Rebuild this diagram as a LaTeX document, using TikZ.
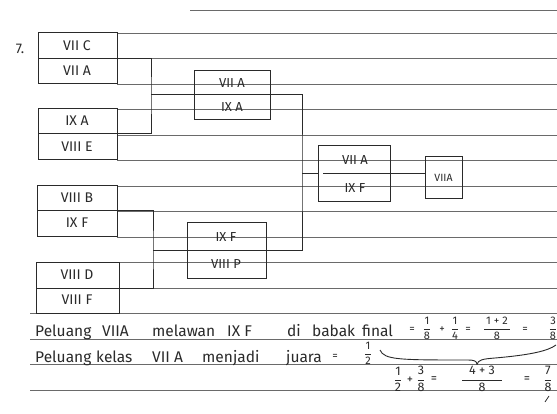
\documentclass[tikz,border=0pt]{standalone}
\usepackage{fontspec}
\usepackage{amsmath}
\setmainfont{Fira Sans}
\definecolor{ink}{HTML}{2A2A2A}
\definecolor{ruling}{HTML}{6A6A6A}
\newcommand\myfr[2]{\ensuremath{\dfrac{\text{#1}}{\text{#2}}}}
\begin{document}
\begin{tikzpicture}[x=1pt,y=-1pt,
  paper/.style={draw=ruling,line width=0.7pt},
  box/.style={draw=ink,line width=1pt,rectangle,inner sep=0pt,outer sep=0pt},
  wire/.style={draw=ink,line width=1pt},
  lab/.style={text=ink,font=\fontsize{14}{14}\selectfont,inner sep=0pt},
  labB/.style={text=ink,font=\fontsize{13}{13}\selectfont,inner sep=0pt},
  labF/.style={text=ink,font=\fontsize{10.5}{10.5}\selectfont,inner sep=0pt},
  txt/.style={text=ink,font=\fontsize{15.5}{15.5}\selectfont,inner sep=0pt,anchor=base west},
  fr/.style={text=ink,font=\fontsize{11}{11}\selectfont,inner sep=0pt},
  frB/.style={text=ink,font=\fontsize{12.5}{12.5}\selectfont,inner sep=0pt}]
\fill[white] (0,0) rectangle (557,414);
\useasboundingbox (0,0) rectangle (557,414);
% ruled paper
\draw[paper] (190,10) -- (557,10);
\foreach \k in {0,...,11} \draw[paper] (117,{33+25.5*\k}) -- (557,{33+25.5*\k});
\foreach \k in {11,...,14} \draw[paper] (30,{33+25.5*\k}) -- (557,{33+25.5*\k});
% number
\node[lab] (num) at (20,49) {7.};
% first round boxes
\node[box,minimum width=79pt,minimum height=51pt] (b1) at (77.5,58.5) {};
\node[box,minimum width=79pt,minimum height=51pt] (b2) at (77.5,134) {};
\node[box,minimum width=80pt,minimum height=51pt] (b3) at (77,211) {};
\node[box,minimum width=83pt,minimum height=51pt] (b4) at (77.5,288) {};
\foreach \b in {b1,b2,b3,b4} \draw[wire] (\b.west) -- (\b.east);
\node[lab] (t1) at (77,46) {VII C};
\node[lab] (t2) at (77,71) {VII A};
\node[lab] (t3) at (77,121) {IX A};
\node[lab] (t4) at (77,147) {VIII E};
\node[lab] (t5) at (77,198) {VIII B};
\node[lab] (t6) at (77,223) {IX F};
\node[lab] (t7) at (77,275) {VIII D};
\node[lab] (t8) at (77,300) {VIII F};
% second round boxes
\node[box,minimum width=76pt,minimum height=49pt] (bA) at (232,95) {};
\node[box,minimum width=79pt,minimum height=55pt] (bB) at (226.5,250.5) {};
\draw[wire] (bA.west) -- (bA.east);
\draw[wire] (bB.west) -- (bB.east);
\node[labB] (tA1) at (232,83) {VII A};
\node[labB] (tA2) at (232,107) {IX A};
\node[labB] (tB1) at (226,237) {IX F};
\node[labB] (tB2) at (226,264) {VIII P};
% final boxes
\node[box,minimum width=72pt,minimum height=56pt] (bC) at (354,174) {};
\draw[wire] ([xshift=5pt]bC.west) -- (bC.east);
\node[labB] (tC1) at (355,160) {VII A};
\node[labB] (tC2) at (355,188) {IX F};
\node[box,minimum width=37pt,minimum height=42pt] (bF) at (443.5,178) {};
\node[labF] (tF) at (443.5,178) {VIIA};
% connectors
\coordinate (j1) at (151,95);
\draw[wire] (b1.east) -| (j1) |- (b2.east);
\draw[wire] (j1) -- (bA.west);
\coordinate (j2) at (153,250.5);
\draw[wire] (b3.east) -| (j2) |- (b4.east);
\draw[wire] (j2) -- (bB.west);
\coordinate (j3) at (302,174);
\draw[wire] (bA.east) -| (j3) |- (bB.east);
\draw[wire] (j3) -- (bC.west);
\draw[wire] (bC.east) -- (bC.east -| bF.west);
% text line 1
\node[txt] (l1a) at (35,336) {Peluang};
\node[txt] (l1b) at (102,336) {VIIA};
\node[txt] (l1c) at (152,336) {melawan};
\node[txt] (l1d) at (227,336) {IX F};
\node[txt] (l1e) at (287,336) {di};
\node[txt] (l1f) at (312,336) {babak};
\node[txt] (l1g) at (362,336) {final};
\node[fr] (e1) at (412,330) {=};
\node[fr] (f1) at (427,328.5) {\myfr{1}{8}};
\node[fr] (p1) at (442,330) {+};
\node[fr] (f2) at (455,328.5) {\myfr{1}{4}};
\node[fr] (e2) at (468,330) {=};
\node[fr] (f3) at (497,328.5) {\myfr{\,1 + 2\,}{8}};
\node[fr] (e3) at (525,330) {=};
\node[fr] (f4) at (553,328.5) {\myfr{3}{8}};
% text line 2
\node[txt] (l2a) at (35,362) {Peluang};
\node[txt] (l2b) at (96,362) {kelas};
\node[txt] (l2c) at (152,362) {VII A};
\node[txt] (l2d) at (202,362) {menjadi};
\node[txt] (l2e) at (286,362) {juara};
\node[fr] (e4) at (335,357) {=};
\node[fr] (f5) at (368,353) {\myfr{1}{2}};
% brace
\draw[wire,line width=0.9pt] (380,350) .. controls (384,360) and (400,360) .. (468,360) .. controls (474,360) and (477,361) .. (477,364.5);
\draw[wire,line width=0.9pt] (477,364.5) .. controls (478,360) and (482,359) .. (495,358) .. controls (530,355) and (548,351) .. (556,345);
% text line 3
\node[frB] (f6) at (398,379) {\myfr{1}{2}};
\node[frB] (p2) at (410,380) {+};
\node[frB] (f7) at (421,379) {\myfr{3}{8}};
\node[frB] (e5) at (434,380) {=};
\node[frB] (f8) at (482,379) {\myfr{\;\;4 + 3\;\;}{8}};
\node[frB] (e6) at (527,380) {=};
\node[frB] (f9) at (548,379) {\myfr{7}{8}};
\draw[wire,line width=0.8pt] (549,396) -- (545,402);
\end{tikzpicture}
\end{document}
